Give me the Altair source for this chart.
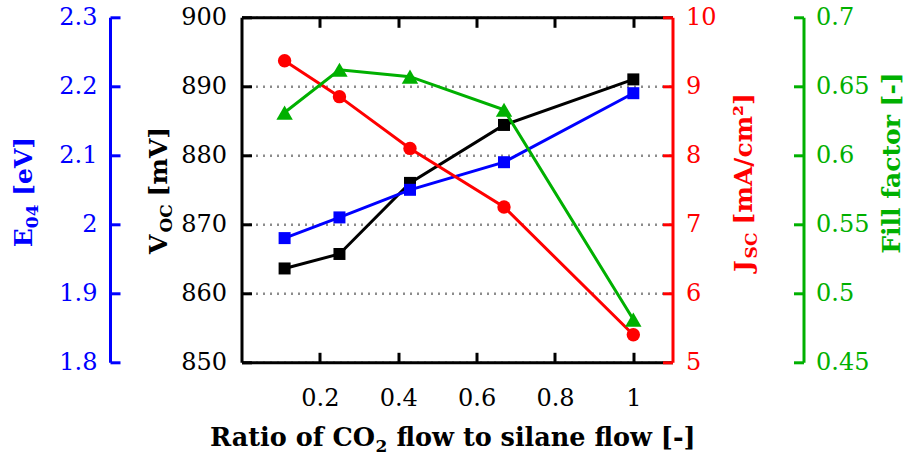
import altair as alt
import pandas as pd

# ---- data ----
ratio = [0.11, 0.25, 0.43, 0.67, 1.0]
e04 = [1.98, 2.01, 2.05, 2.09, 2.19]
voc = [863.6, 865.7, 876.0, 884.4, 891.0]
jsc = [9.37, 8.85, 8.10, 7.25, 5.40]
ff = [0.631, 0.662, 0.657, 0.633, 0.481]

x_ticks = [0.2, 0.4, 0.6, 0.8, 1.0]
e04_ticks = [1.8, 1.9, 2.0, 2.1, 2.2, 2.3]
voc_ticks = [850, 860, 870, 880, 890, 900]
jsc_ticks = [5, 6, 7, 8, 9, 10]
ff_ticks = [0.45, 0.5, 0.55, 0.6, 0.65, 0.7]

df = pd.DataFrame({"ratio": ratio, "e04": e04, "voc": voc, "jsc": jsc, "ff": ff})

W, H = 431, 345
FONT = "DejaVu Serif"
LBL = 24
TS = 25      # rotated title size
SUB = 17     # subscript size

BLUE, BLACK, RED, GREEN = "#0000ff", "#000000", "#ff0000", "#00b000"

xscale = alt.Scale(domain=[0, 1.1], nice=False, zero=False)

x_label_axis = alt.Axis(orient="bottom", values=x_ticks, format="~f", tickSize=0,
                        domainColor=BLACK, domainWidth=3, labelColor=BLACK,
                        labelFont=FONT, labelFontSize=LBL, labelPadding=24,
                        grid=False, title=None)
x_top_axis = alt.Axis(orient="bottom", offset=-H, values=x_ticks, labels=False,
                      tickSize=10, tickWidth=3, tickColor=BLACK,
                      domainColor=BLACK, domainWidth=3, grid=False, title=None)
x_up_axis = alt.Axis(orient="top", offset=-H, values=x_ticks, labels=False,
                     tickSize=10, tickWidth=3, tickColor=BLACK,
                     domain=False, grid=False, title=None)


def series(field, color, domain, ticks, side, off, shape, size, xa_line, xa_pts,
           pad, grid=False):
    opp = "right" if side == "left" else "left"
    label_axis = alt.Axis(orient=side, offset=off, values=ticks, format="~f",
                          tickSize=0, domainColor=color, domainWidth=3,
                          labelColor=color, labelFont=FONT, labelFontSize=LBL,
                          labelPadding=pad, title=None, grid=grid,
                          gridDash=[2, 5], gridColor="#8c8c8c", gridWidth=2.5)
    tick_axis = alt.Axis(orient=opp, offset=-W - off, values=ticks, labels=False,
                         domain=False, tickSize=10, tickWidth=3, tickColor=color,
                         title=None, grid=False)
    yscale = alt.Scale(domain=domain, nice=False, zero=False)
    base = alt.Chart(df)
    line = base.mark_line(color=color, strokeWidth=3).encode(
        x=alt.X("ratio:Q", scale=xscale, axis=xa_line),
        y=alt.Y(f"{field}:Q", scale=yscale, axis=label_axis),
    )
    pts = base.mark_point(shape=shape, size=size, filled=True, color=color,
                          opacity=1).encode(
        x=alt.X("ratio:Q", scale=xscale, axis=xa_pts),
        y=alt.Y(f"{field}:Q", scale=yscale, axis=tick_axis),
    )
    return alt.layer(line, pts).resolve_axis(x="independent", y="independent")


s_voc = series("voc", BLACK, [850, 900], voc_ticks, "left", 0, "square", 144,
               x_label_axis, x_up_axis, 15, grid=True)
s_e04 = series("e04", BLUE, [1.8, 2.3], e04_ticks, "left", 131.5, "square", 144,
               x_top_axis, None, 13)
s_jsc = series("jsc", RED, [5, 10], jsc_ticks, "right", 0, "circle", 180,
               None, None, 13)
s_ff = series("ff", GREEN, [0.45, 0.7], ff_ticks, "right", 131, "triangle-up", 270,
              None, None, 12)

OX, OY = 241.5, 17.3
one = pd.DataFrame({"k": [0]})


def txt(s, px, py, color, size=TS, angle=0, align="left", bold=True):
    kw = dict(text=s, font=FONT, fontSize=size, color=color, align=align,
              baseline="alphabetic", fontWeight="bold" if bold else "normal")
    if angle:
        kw["angle"] = angle
    return alt.Chart(one).mark_text(**kw).encode(
        x=alt.value(px - OX), y=alt.value(py - OY))


XT = 25.5
titles = [
    # E04 [eV]
    txt("E", 31.7, 247.3, BLUE, angle=270),
    txt("04", 37.5, 228.2, BLUE, size=SUB, angle=270),
    txt("[eV]", 31.7, 195.8, BLUE, angle=270),
    # VOC [mV]
    txt("V", 166.5, 254, BLACK, angle=270),
    txt("OC", 172.3, 232.6, BLACK, size=SUB, angle=270),
    txt("[mV]", 166.5, 196.4, BLACK, angle=270),
    # JSC [mA/cm2]
    txt("J", 751.5, 272, RED, angle=270),
    txt("SC", 757.3, 258.4, RED, size=SUB, angle=270),
    txt("[mA/cm²]", 751.5, 224.4, RED, angle=270),
    # Fill factor
    txt("Fill factor [-]", 900, 163, GREEN, angle=270, align="center"),
    # x title
    txt("Ratio of CO", 210, 446, BLACK, size=XT),
    txt("2", 375.6, 452, BLACK, size=SUB),
    txt("flow to silane flow [-]", 396.5, 446, BLACK, size=XT),
]

chart = alt.layer(s_voc, s_e04, s_jsc, s_ff, *titles).resolve_scale(
    y="independent").resolve_axis(x="independent", y="independent").properties(
    width=W, height=H,
    autosize=alt.AutoSizeParams(type="none"),
    padding={"left": OX, "top": OY, "right": 907 - OX - W, "bottom": 456 - OY - H},
    background="white",
).configure_view(stroke=None)

chart.save("out.html", embed_options={"renderer": "svg", "actions": False})
